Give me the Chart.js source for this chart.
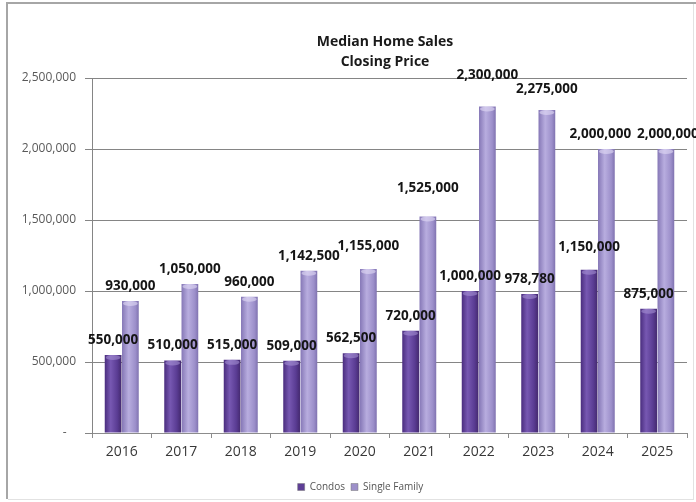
<!DOCTYPE html>
<html>
<head>
<meta charset="utf-8">
<script src="https://cdn.jsdelivr.net/npm/chart.js@4.4.1/dist/chart.umd.min.js"></script>
<style>
  html, body { margin: 0; padding: 0; background: #fff; }
  canvas { display: block; }
</style>
</head>
<body>
<canvas id="chart" width="696" height="502"></canvas>
<script>
// Median closing prices by year
const years = ['2016', '2017', '2018', '2019', '2020', '2021', '2022', '2023', '2024', '2025'];
const condos = [550000, 510000, 515000, 509000, 562500, 720000, 1000000, 978780, 1150000, 875000];
const singleFamily = [930000, 1050000, 960000, 1142500, 1155000, 1525000, 2300000, 2275000, 2000000, 2000000];
const yTicks = [0, 500000, 1000000, 1500000, 2000000, 2500000];
const titleLines = ['Median Home Sales', 'Closing Price'];

const FONT = '"Open Sans", "Liberation Sans", sans-serif';

// Horizontal shading that gives each bar a rounded, cylinder-like look
function barShade(stops, solid) {
  return (ctx) => {
    const el = ctx.element;
    if (!el || !el.width || ctx.type !== 'data') return solid;
    const c = ctx.chart.ctx;
    const g = c.createLinearGradient(el.x - el.width / 2, 0, el.x + el.width / 2, 0);
    stops.forEach(([o, col]) => g.addColorStop(o, col));
    return g;
  };
}

const condoShade = barShade([[0, '#4a2d7e'], [0.35, '#7758b2'], [0.75, '#5a3c93'], [1, '#44296f']], '#5e3f96');
const sfShade = barShade([[0, '#8577b6'], [0.4, '#b8addf'], [0.8, '#9c8fca'], [1, '#8073b0']], '#9d90c9');

// Frame, title, legend placement and value labels
const decor = {
  id: 'decor',
  afterLayout(chart, args, opts) {
    const lg = chart.legend;
    if (lg && opts.legendShift) {
      lg.left += opts.legendShift;
      lg.right += opts.legendShift;
    }
  },
  beforeDraw(chart) {
    const c = chart.ctx;
    c.save();
    c.fillStyle = '#ffffff';
    c.fillRect(0, 0, chart.width, chart.height);
    c.strokeStyle = '#a6a6a6';
    c.lineWidth = 2;
    c.beginPath();
    c.moveTo(7, 3); c.lineTo(7, 499);
    c.moveTo(6, 3); c.lineTo(696, 3);
    c.stroke();
    c.strokeStyle = '#e2e2e2';
    c.lineWidth = 1;
    c.beginPath();
    c.moveTo(693.5, 4); c.lineTo(693.5, 499);
    c.moveTo(8, 499.5); c.lineTo(694, 499.5);
    c.stroke();
    c.restore();
  },
  afterDatasetsDraw(chart, args, opts) {
    const c = chart.ctx;
    c.save();
    // lighter caps on bar tops
    chart.data.datasets.forEach((ds, di) => {
      const meta = chart.getDatasetMeta(di);
      meta.data.forEach((bar) => {
        c.fillStyle = di === 0 ? 'rgba(170,150,215,0.55)' : 'rgba(225,218,245,0.6)';
        c.beginPath();
        c.ellipse(bar.x, bar.y + 2.5, bar.width / 2 - 1, 2.5, 0, 0, Math.PI * 2);
        c.fill();
      });
    });
    // value labels, a few nudged apart so neighbours stay readable
    c.font = 'bold 13.5px ' + FONT;
    c.fillStyle = '#151515';
    c.textAlign = 'center';
    c.textBaseline = 'middle';
    chart.data.datasets.forEach((ds, di) => {
      const meta = chart.getDatasetMeta(di);
      const lift = (opts.lift && opts.lift[di]) || {};
      const shift = (opts.shift && opts.shift[di]) || {};
      meta.data.forEach((bar, i) => {
        const txt = ds.data[i].toLocaleString('en-US');
        c.fillText(txt, bar.x + (shift[i] || 0), bar.y - 15 - (lift[i] || 0));
      });
    });
    c.restore();
  },
  afterDraw(chart) {
    const c = chart.ctx;
    c.save();
    c.font = 'bold 14px ' + FONT;
    c.fillStyle = '#1a1a1a';
    c.textAlign = 'center';
    c.textBaseline = 'middle';
    c.fillText(titleLines[0], 385, 42);
    c.fillText(titleLines[1], 385, 62);
    c.restore();
  }
};

const chart = new Chart(document.getElementById('chart'), {
  type: 'bar',
  data: {
    labels: years,
    datasets: [
      { label: 'Condos', data: condos, backgroundColor: condoShade,
        categoryPercentage: 0.58, barPercentage: 0.97 },
      { label: 'Single Family', data: singleFamily, backgroundColor: sfShade,
        categoryPercentage: 0.58, barPercentage: 0.97 }
    ]
  },
  options: {
    responsive: false,
    animation: false,
    devicePixelRatio: 1,
    layout: { padding: { top: 78, left: 8, right: 9, bottom: 0 } },
    plugins: {
      title: { display: false },
      tooltip: { enabled: false },
      legend: {
        position: 'bottom',
        labels: {
          boxWidth: 7, boxHeight: 7, padding: 6,
          color: '#555', font: { family: FONT, size: 10 },
          generateLabels(ch) {
            const cols = ['#5e3f96', '#9d90c9'];
            return ch.data.datasets.map((ds, i) => ({
              text: ds.label, fillStyle: cols[i], strokeStyle: '#777', lineWidth: 0.5,
              datasetIndex: i, hidden: false, fontColor: '#555'
            }));
          }
        }
      },
      decor: {
        legendShift: 13,
        lift: { 0: { 8: 8 }, 1: { 4: 8, 5: 13, 6: 16, 7: 6 } },
        shift: { 1: { 8: -6, 9: 2 } }
      }
    },
    scales: {
      x: {
        afterFit(s) { s.height = 43; },
        grid: { drawOnChartArea: false, drawTicks: true, tickLength: 5, color: '#8c8c8c' },
        border: { color: '#8c8c8c' },
        ticks: { color: '#383838', padding: 6, font: { family: FONT, size: 14 } }
      },
      y: {
        min: 0, max: 2500000,
        afterFit(s) { s.width = 84; },
        afterBuildTicks(s) { s.ticks = yTicks.map(v => ({ value: v })); },
        grid: { color: '#858585', tickLength: 7 },
        border: { color: '#858585' },
        ticks: {
          color: '#595959', padding: 9, font: { family: FONT, size: 12 },
          callback: (v) => v === 0 ? '-   ' : Number(v).toLocaleString('en-US')
        }
      }
    }
  },
  plugins: [decor]
});
// second pass so bar shading uses laid-out bar positions
chart.update();
</script>
</body>
</html>
